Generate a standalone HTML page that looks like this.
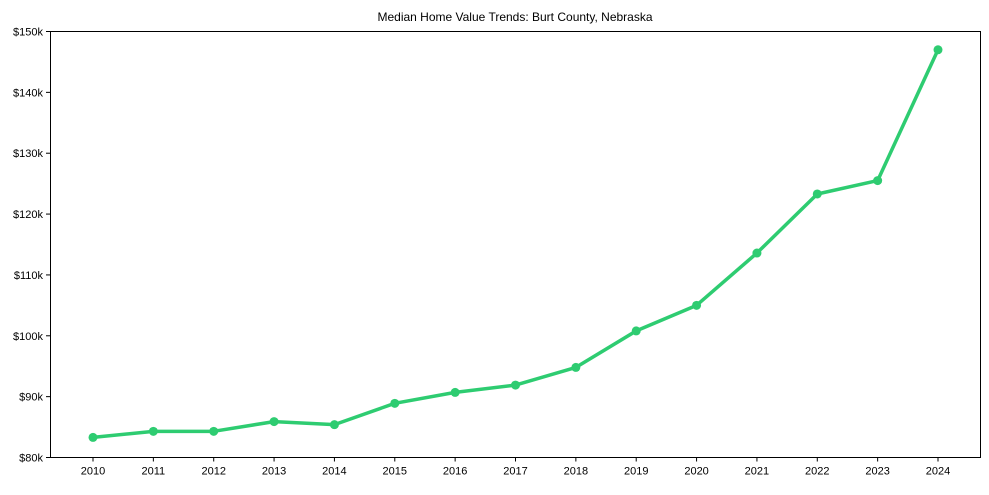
<!DOCTYPE html>
<html><head><meta charset="utf-8"><style>
body{margin:0;background:#fff;font-family:"Liberation Sans",Arial,sans-serif;}
svg text{font-family:"Liberation Sans",Arial,sans-serif;fill:#000;}
</style></head><body>
<svg id="chart" width="989" height="490" xmlns="http://www.w3.org/2000/svg">
<rect width="989" height="490" fill="#fff"/>
<text x="515" y="21" font-size="12" text-anchor="middle">Median Home Value Trends: Burt County, Nebraska</text>
<g id="axes"></g>
<g id="series"></g>
<rect x="50.5" y="31.5" width="930" height="426" fill="none" stroke="#000" stroke-width="1"/>
</svg>
<script>
const years=[2010,2011,2012,2013,2014,2015,2016,2017,2018,2019,2020,2021,2022,2023,2024];
const values=[83.3,84.3,84.3,85.9,85.4,88.9,90.7,91.9,94.8,100.8,105.0,113.6,123.3,125.5,147.0];
const yTicks=[80,90,100,110,120,130,140,150];
const yTickLabels=["$80k","$90k","$100k","$110k","$120k","$130k","$140k","$150k"];

const NS="http://www.w3.org/2000/svg";
const x0=50,x1=980,yTop=31.5,yBot=457.5;
function xs(yr){return 93+(yr-2010)*(938-93)/14;}
function ys(v){return yBot-(v-80)*(yBot-yTop)/70;}
function mk(tag,a,p){const e=document.createElementNS(NS,tag);for(const k in a)e.setAttribute(k,a[k]);p.appendChild(e);return e;}
const axes=document.getElementById('axes');
yTicks.forEach((t,i)=>{
  const y=ys(t);
  const l=mk('line',{x1:46,x2:50,y1:y,y2:y,stroke:'#000'},axes);
  
  
  const tx=mk('text',{x:43,y:y+4,'font-size':11,'text-anchor':'end'},axes);
  tx.textContent=yTickLabels[i];
  
  
});
years.forEach(yr=>{
  const x=xs(yr);
  const l=mk('line',{x1:x,x2:x,y1:yBot,y2:yBot+4,stroke:'#000'},axes);
  
  
  const tx=mk('text',{x:x,y:yBot+17,'font-size':11,'text-anchor':'middle'},axes);
  tx.textContent=yr;
  
  
});
const s=document.getElementById('series');
const pts=years.map((yr,i)=>xs(yr)+','+ys(values[i])).join(' ');
const pl=mk('polyline',{points:pts,fill:'none',stroke:'#2ecc71','stroke-width':3.5,'stroke-linejoin':'round'},s);


years.forEach((yr,i)=>{
  const c=mk('circle',{cx:xs(yr),cy:ys(values[i]),r:4.5,fill:'#2ecc71'},s);
  
  
});
</script>
</body></html>
